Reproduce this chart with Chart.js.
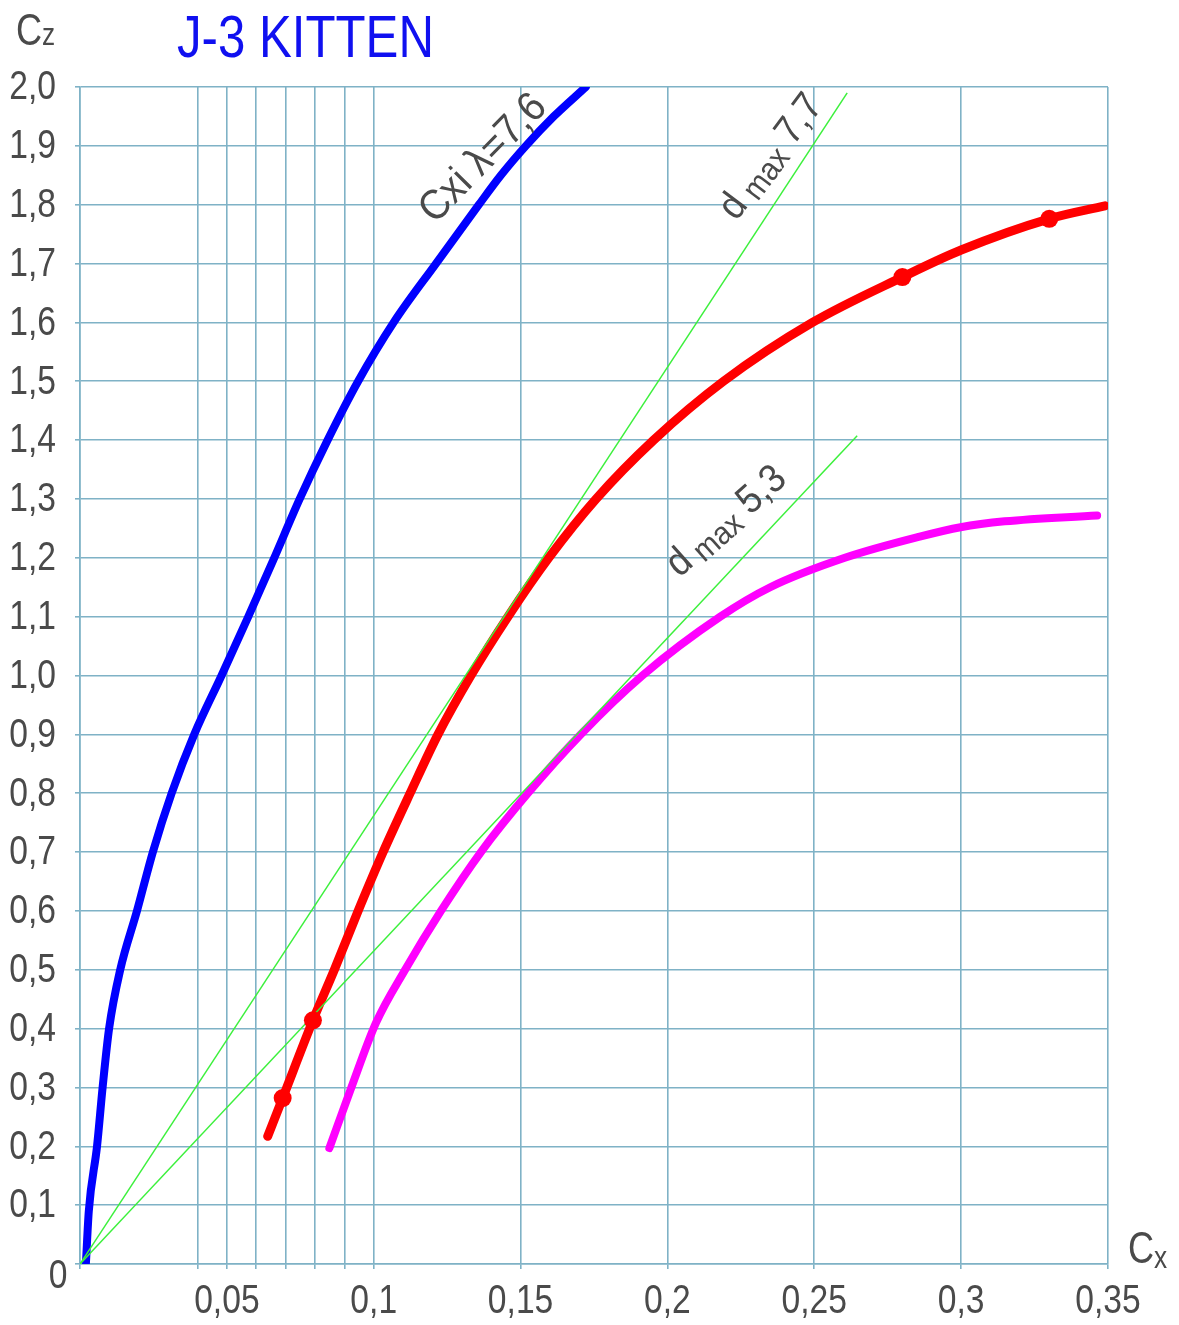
<!DOCTYPE html>
<html><head><meta charset="utf-8">
<script src="https://cdn.jsdelivr.net/npm/chart.js@4/dist/chart.umd.min.js"></script>
<style>html,body{margin:0;padding:0;background:#fff;}canvas{display:block}</style>
</head><body>
<canvas id="c" width="1179" height="1325"></canvas>
<script>
// ---------- data ----------
const chartTitle = 'J-3 KITTEN';
const xGridValues = [0, 0.04, 0.05, 0.06, 0.07, 0.08, 0.09, 0.1, 0.15, 0.2, 0.25, 0.3, 0.35];
const xLabelValues = [0.05, 0.1, 0.15, 0.2, 0.25, 0.3, 0.35];
const xLabelTexts = ['0,05', '0,1', '0,15', '0,2', '0,25', '0,3', '0,35'];
const yTickValues = [0, 0.1, 0.2, 0.3, 0.4, 0.5, 0.6, 0.7, 0.8, 0.9, 1.0, 1.1, 1.2, 1.3, 1.4, 1.5, 1.6, 1.7, 1.8, 1.9, 2.0];
const yTickTexts = ['0', '0,1', '0,2', '0,3', '0,4', '0,5', '0,6', '0,7', '0,8', '0,9', '1,0', '1,1', '1,2', '1,3', '1,4', '1,5', '1,6', '1,7', '1,8', '1,9', '2,0'];

// Cxi (lambda = 7,6) - blue
const blueCx = [0.002, 0.003, 0.0058, 0.0077, 0.0099, 0.0137, 0.0194, 0.0248, 0.0312, 0.0389, 0.0482, 0.0573, 0.0658, 0.0748, 0.0843, 0.0947, 0.1068, 0.1212, 0.1358, 0.1433, 0.1518, 0.1613, 0.1722];
const blueCz = [0.0, 0.09, 0.2, 0.3, 0.4, 0.5, 0.6, 0.7, 0.8, 0.9, 1.0, 1.1, 1.196, 1.3, 1.4, 1.5, 1.6, 1.7, 1.8, 1.85, 1.9, 1.95, 2.0];

// polar - red
const redCx = [0.0639, 0.069, 0.0793, 0.0866, 0.0947, 0.1032, 0.1124, 0.1219, 0.1331, 0.1457, 0.1596, 0.1757, 0.1953, 0.2191, 0.2494, 0.280, 0.300, 0.330, 0.349];
const redCz = [0.217, 0.282, 0.414, 0.5, 0.6, 0.7, 0.8, 0.9, 1.0, 1.1, 1.2, 1.3, 1.4, 1.5, 1.6, 1.677, 1.723, 1.776, 1.798];
const redMarkCx = [0.069, 0.0793, 0.280, 0.330];
const redMarkCz = [0.282, 0.414, 1.677, 1.776];

// polar - magenta
const magCx = [0.0849, 0.0924, 0.1008, 0.1107, 0.1229, 0.1365, 0.1525, 0.1705, 0.1915, 0.218, 0.235, 0.2604, 0.2859, 0.2998, 0.3148, 0.3463];
const magCz = [0.197, 0.3, 0.41, 0.5, 0.6, 0.7, 0.8, 0.9, 1.0, 1.1, 1.15, 1.2, 1.236, 1.252, 1.262, 1.272];

// tangent lines (d max)
const tan77Cx = [0, 0.2612];
const tan77Cz = [0, 1.990];
const tan53Cx = [0, 0.2646];
const tan53Cz = [0, 1.4075];

// ---------- helpers ----------
const pts = (xs, ys) => xs.map((x, i) => ({x: x, y: ys[i]}));
const FONT = "'Liberation Sans', Arial, sans-serif";
const TXT = '#4a4a4a';
const GRID = '#7fb2c6';
const NARROW = 0.82;

function narrowText(ctx, text, x, y, size, align, baseline, color, sx) {
  ctx.save();
  ctx.translate(x, y);
  ctx.scale(sx || NARROW, 1);
  ctx.font = size + 'px ' + FONT;
  ctx.fillStyle = color || TXT;
  ctx.textAlign = align;
  ctx.textBaseline = baseline;
  ctx.fillText(text, 0, 0);
  ctx.restore();
}

function richText(ctx, parts, cx, cy, angleDeg, sx) {
  ctx.save();
  ctx.translate(cx, cy);
  ctx.rotate(angleDeg * Math.PI / 180);
  ctx.scale(sx, 1);
  ctx.textBaseline = 'alphabetic';
  ctx.textAlign = 'left';
  let w = 0;
  parts.forEach(p => { ctx.font = p.size + 'px ' + FONT; p.w = ctx.measureText(p.t).width; w += p.w; });
  let x = -w / 2;
  parts.forEach(p => {
    ctx.font = p.size + 'px ' + FONT;
    ctx.fillStyle = TXT;
    ctx.fillText(p.t, x, 14 + (p.dy || 0));
    x += p.w;
  });
  ctx.restore();
}

const near = (a, b) => Math.abs(a - b) < 1e-9;

const annot = {
  id: 'annot',
  afterDraw(chart) {
    const ctx = chart.ctx;
    const xs = chart.scales.x, ys = chart.scales.y;
    // tick labels (narrow face)
    xs.ticks.forEach(t => {
      const i = xLabelValues.findIndex(a => near(a, t.value));
      if (i >= 0) narrowText(ctx, xLabelTexts[i], xs.getPixelForValue(t.value), 1302, 41, 'center', 'middle');
    });
    ys.ticks.forEach(t => {
      const i = yTickValues.findIndex(a => near(a, t.value));
      if (i < 0) return;
      if (near(t.value, 0)) {
        narrowText(ctx, yTickTexts[i], 58, 1277, 41, 'center', 'middle');
      } else {
        narrowText(ctx, yTickTexts[i], 56, ys.getPixelForValue(t.value) + 1, 41, 'right', 'middle');
      }
    });
    // title
    narrowText(ctx, chartTitle, 177, 57, 60, 'left', 'alphabetic', '#1010f0');
    // axis names
    ctx.save();
    ctx.font = '44px ' + FONT;
    const cw = ctx.measureText('C').width * NARROW;
    ctx.restore();
    narrowText(ctx, 'C', 16, 45, 44, 'left', 'alphabetic');
    narrowText(ctx, 'z', 16 + cw, 45, 32, 'left', 'alphabetic');
    narrowText(ctx, 'C', 1128, 1263, 44, 'left', 'alphabetic');
    narrowText(ctx, 'x', 1128 + cw, 1268, 32, 'left', 'alphabetic');
    // curve labels
    richText(ctx, [{t: 'Cxi λ=7,6', size: 42}],
      xs.getPixelForValue(0.1368), ys.getPixelForValue(1.881), -45.5, 0.92);
    richText(ctx, [{t: 'd', size: 40}, {t: ' max', size: 32, dy: 5}, {t: ' 7,7', size: 40}],
      xs.getPixelForValue(0.2346), ys.getPixelForValue(1.884), -53, 0.92);
    richText(ctx, [{t: 'd', size: 40}, {t: ' max', size: 32, dy: 5}, {t: ' 5,3', size: 40}],
      xs.getPixelForValue(0.2195), ys.getPixelForValue(1.265), -41.5, 0.92);
  }
};

const curve = (xs, ys, color, w) => ({
  data: pts(xs, ys), showLine: true, borderColor: color, borderWidth: w, pointRadius: 0,
  cubicInterpolationMode: 'monotone', borderCapStyle: 'round', borderJoinStyle: 'round', order: 2
});

new Chart(document.getElementById('c'), {
  type: 'scatter',
  data: {
    datasets: [
      {data: pts(redMarkCx, redMarkCz), showLine: false, pointRadius: 9, pointBackgroundColor: '#ff0000', pointBorderWidth: 0, order: 0},
      {data: pts(tan77Cx, tan77Cz), showLine: true, borderColor: '#3cf03c', borderWidth: 1.5, pointRadius: 0, order: 1},
      {data: pts(tan53Cx, tan53Cz), showLine: true, borderColor: '#3cf03c', borderWidth: 1.5, pointRadius: 0, order: 1},
      curve(blueCx, blueCz, '#0000ff', 8),
      curve(redCx, redCz, '#ff0000', 9),
      curve(magCx, magCz, '#ff00ff', 8)
    ]
  },
  options: {
    responsive: false,
    animation: false,
    devicePixelRatio: 1,
    layout: {padding: {top: 87, right: 71, left: 0, bottom: 0}},
    plugins: {legend: {display: false}, tooltip: {enabled: false}, title: {display: false}},
    scales: {
      x: {
        type: 'linear', min: 0, max: 0.35,
        afterBuildTicks: s => { s.ticks = xGridValues.map(v => ({value: v})); },
        afterFit: s => { s.height = 61; },
        ticks: {
          display: false, autoSkip: false,
          callback: v => { const i = xLabelValues.findIndex(a => near(a, v)); return i >= 0 ? xLabelTexts[i] : ''; }
        },
        grid: {color: GRID, lineWidth: 1.6, tickLength: 5},
        border: {color: GRID, width: 1.6}
      },
      y: {
        type: 'linear', min: 0, max: 2,
        afterBuildTicks: s => { s.ticks = yTickValues.map(v => ({value: v})); },
        afterFit: s => { s.width = 80; },
        ticks: {
          display: false, autoSkip: false,
          callback: v => { const i = yTickValues.findIndex(a => near(a, v)); return i >= 0 ? yTickTexts[i] : ''; }
        },
        grid: {color: GRID, lineWidth: 1.6, tickLength: 5},
        border: {color: GRID, width: 1.6}
      }
    }
  },
  plugins: [annot]
});
</script>
</body></html>
